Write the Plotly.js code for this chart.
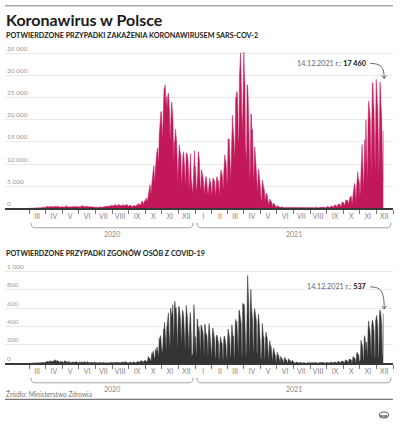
<!DOCTYPE html>
<html><head><meta charset="utf-8">
<script src="https://cdn.plot.ly/plotly-3.0.1.min.js"></script>
<style>html,body{margin:0;padding:0;background:#fff;}#chart{width:400px;height:424px;}</style>
</head><body><div id="chart"></div>
<script>
// ---------- DATA ----------
const startDate = '2020-03-02'; // first Monday, one row per week (Mon..Sun)
const dailyCases = [
0,0,1,0,4,1,5,
6,5,9,18,17,21,32,
27,27,46,73,70,111,98,
115,152,150,170,170,249,224,
193,256,243,244,475,437,244,
311,374,370,380,357,318,268,
270,285,380,336,363,545,263,
306,401,313,381,460,291,284,
263,344,445,380,286,342,292,
272,356,307,354,330,595,414,
384,261,272,389,271,265,378,
222,335,403,291,279,443,222,
278,395,358,383,371,337,239,
292,324,361,403,352,579,575,
599,282,396,440,378,353,407,
314,370,506,301,305,346,314,
240,371,324,320,361,319,250,
262,300,374,371,276,243,262,
193,225,269,299,358,318,225,
207,222,245,287,334,349,308,
281,337,330,375,418,443,323,
337,384,512,615,657,658,548,
680,599,640,726,809,843,596,
548,587,600,843,832,726,691,
587,511,639,767,903,811,579,
548,586,794,887,767,847,563,
453,545,575,597,648,700,400,
377,393,545,599,614,605,445,
517,599,592,810,1002,1049,759,
759,752,975,1136,1587,1584,1306,
757,1326,1552,1552,1937,2292,1934,
1334,2236,3003,4280,4739,5300,4178,
3003,5068,6526,8099,7705,9622,7482,
5706,9291,10040,12107,13632,13628,11742,
10241,16300,18820,20156,21629,21897,17171,
15578,19364,24692,27143,27086,27875,24785,
21713,25221,22464,25571,26019,24051,21854,
15002,19152,19883,23975,22683,20816,16218,
10139,15002,15362,17856,16687,15178,11483,
5733,9105,13855,14325,13210,12252,11726,
4896,7145,12143,12140,12756,11486,8977,
4633,7872,12545,12454,11933,11000,8700,
4000,7000,12200,12300,6800,4600,3500,
3211,7000,12197,13000,7000,9500,5000,
3800,6000,8000,12800,12100,11000,7000,
3900,4900,8700,8100,7200,6900,5000,
3000,4700,6800,7200,6900,6000,4100,
2800,4600,6800,6800,6100,5800,4300,
2600,4600,6800,6600,6400,6100,4300,
2500,4900,7100,7000,6200,6200,4600,
2500,6000,8700,8700,7900,7800,5800,
4000,7900,12100,12100,10900,10500,8700,
4800,7900,15700,15250,15700,13000,10900,
6100,11500,17200,21000,18400,17300,14900,
10900,14400,25000,25100,26400,25900,21800,
14500,16000,29900,34200,35100,29900,24800,
16700,20900,32900,35250,30500,27900,14600,
9900,9900,27900,27800,24900,21100,13600,
6300,9900,21300,21100,17200,17800,10900,
5200,9100,13900,12500,10700,9300,6400,
3400,6400,8900,8000,7000,6000,4000,
2000,1700,6400,5500,4700,4400,3900,
1400,2400,3400,3300,2900,2400,1900,
700,1500,2100,1800,1700,1500,1000,
400,800,1200,1000,800,900,600,
200,400,600,500,400,400,300,
100,300,350,300,250,200,150,
80,150,200,200,150,130,110,
60,100,150,130,110,100,80,
40,100,120,100,90,80,60,
40,90,110,100,90,80,70,
40,90,110,110,100,100,80,
50,100,120,110,110,120,90,
50,110,140,140,130,150,100,
60,120,170,180,170,200,130,
80,150,230,240,210,230,150,
90,160,260,250,240,250,160,
100,180,300,300,290,300,200,
100,230,400,380,380,400,250,
150,300,530,500,480,480,350,
200,450,760,700,650,670,450,
300,600,1000,900,880,900,550,
400,800,1400,1300,1100,1350,900,
500,1100,1900,1800,1600,1900,1300,
800,1500,2600,2600,2600,2700,1500,
1100,2600,4300,5500,5600,5100,3000,
1500,4700,7600,8300,6600,6500,5600,
2500,4600,10400,12100,14400,10700,8100,
4000,10000,15500,9000,20000,15200,10500,
5500,19000,24200,23200,22000,20000,14000,
7000,20000,28400,28300,24000,22000,15000,
8000,18000,29100,27000,24000,22000,15000,
7000,16000,28500,27000,23000,21000,14000,
6000,17460
];
const dailyDeaths = [
0,0,0,0,0,0,0,
0,0,0,1,1,1,0,
0,2,0,0,1,2,0,
6,4,4,3,6,2,7,
1,8,12,17,14,23,11,
15,20,14,28,24,20,19,
14,26,26,31,25,39,20,
21,28,26,27,14,21,9,
20,19,15,20,20,17,10,
6,13,29,21,14,22,8,
8,9,23,15,14,13,12,
6,14,19,15,9,11,5,
8,14,18,16,7,13,2,
7,12,17,7,14,14,11,
5,10,16,16,12,13,6,
2,18,9,12,10,6,8,
7,11,10,5,12,11,4,
5,16,5,9,8,5,2,
4,6,9,6,10,8,4,
2,8,5,6,8,6,2,
1,10,5,7,4,5,3,
2,6,9,6,10,12,4,
3,10,9,10,9,10,5,
5,10,11,9,15,11,6,
4,15,12,12,10,14,9,
7,18,13,14,11,10,3,
4,10,13,12,12,13,5,
4,7,17,18,12,14,4,
7,17,14,18,22,21,11,
4,21,27,31,23,22,9,
10,26,30,28,31,26,15,
11,41,76,54,52,53,29,
22,97,116,91,132,84,67,
40,152,130,137,179,153,101,
71,274,236,301,280,179,120,
92,227,373,367,445,349,227,
119,377,419,466,548,346,247,
149,603,574,511,543,637,364,
230,603,674,574,609,517,283,
123,480,620,609,547,484,320,
182,453,578,560,508,406,230,
129,433,630,557,500,374,152,
136,389,552,511,317,79,97,
91,456,637,520,96,290,136,
45,482,471,329,400,354,178,
91,417,407,378,360,309,164,
72,427,399,313,323,292,158,
55,339,431,361,297,248,97,
45,320,383,340,296,260,70,
46,285,308,297,276,225,60,
29,207,285,256,227,214,58,
42,258,297,275,247,200,65,
33,235,373,338,303,245,83,
52,291,419,354,289,298,76,
41,373,479,405,460,346,102,
63,575,575,520,443,436,134,
49,653,621,644,628,440,123,
56,153,621,954,803,653,239,
71,623,803,631,578,468,177,
91,544,594,553,488,461,130,
76,436,536,472,400,256,62,
37,140,433,371,300,281,82,
20,272,338,296,279,186,66,
15,191,246,181,193,131,28,
8,123,167,129,107,81,21,
8,97,119,52,93,54,5,
3,75,66,64,52,34,10,
3,60,63,43,36,32,6,
2,41,49,30,34,22,4,
2,34,26,24,20,14,1,
1,14,17,10,12,8,1,
0,10,10,8,6,5,1,
0,8,6,7,5,4,0,
0,6,5,5,4,3,0,
0,5,6,5,4,3,0,
0,6,8,5,5,4,1,
0,7,7,6,5,5,1,
0,8,9,8,6,5,1,
1,9,10,9,8,7,1,
1,12,13,10,10,9,1,
2,14,15,13,12,10,2,
3,18,22,16,15,13,3,
3,24,26,22,20,17,3,
5,30,38,30,28,25,5,
7,45,47,44,40,35,7,
10,60,75,64,54,50,10,
12,110,120,105,100,85,15,
20,40,250,220,200,180,40,
30,280,300,240,130,230,50,
40,350,460,400,380,300,60,
45,420,470,450,400,350,70,
50,460,500,520,450,380,80,
55,502,580,560,500,420,90,
60,537
];
const monthLabels = ['III','IV','V','VI','VII','VIII','IX','X','XI','XII',
                     'I','II','III','IV','V','VI','VII','VIII','IX','X','XI','XII'];
const firstMonth = {year: 2020, month: 3};
const yearLabels = ['2020', '2021'];
const caseTicks = [0, 5000, 10000, 15000, 20000, 25000, 30000, 35000];
const deathTicks = [0, 200, 400, 600, 800, 1000];
const titleText = 'Koronawirus w Polsce';
const subtitleCases = 'POTWIERDZONE PRZYPADKI ZAKAŻENIA KORONAWIRUSEM SARS-COV-2';
const subtitleDeaths = 'POTWIERDZONE PRZYPADKI ZGONÓW OSÓB Z COVID-19';
const sourceText = 'Źródło: Ministerstwo Zdrowia';

// ---------- DERIVED ----------
const DAY = 86400000;
const t0 = Date.parse(startDate + 'T00:00:00Z');
const dates = dailyCases.map((_, i) => new Date(t0 + i * DAY).toISOString().slice(0, 10));
const iso = (y, m, d) => new Date(Date.UTC(y, m - 1, d)).toISOString().slice(0, 10);
const monthStarts = [], monthMids = [];
for (let k = 0; k <= monthLabels.length; k++) {
  const m0 = firstMonth.month - 1 + k;
  const y = firstMonth.year + Math.floor(m0 / 12), m = (m0 % 12) + 1;
  monthStarts.push(iso(y, m, 1));
  if (k < monthLabels.length) monthMids.push(iso(y, m, 16));
}

// geometry (px in the 400x424 page)
const W = 400, H = 424, PL = 5, PR = 393;
const xr0 = Date.UTC(2020, 0, 16, 18), xr1 = Date.UTC(2022, 0, 1);
const xRange = [new Date(xr0).toISOString(), new Date(xr1).toISOString()];
const topBase = 208.3, topScale = 155 / 35000, topMax = 37000;
const botBase = 363.3, botScale = 92 / 1000, botMax = 1060;
const topTop = topBase - topMax * topScale, botTop = botBase - botMax * botScale;
const px2x = p => (p - PL) / (PR - PL);
const px2y = p => 1 - p / H;
const dateToPx = s => PL + (Date.parse(s.length > 10 ? s : s + 'T00:00:00Z') - xr0) / (xr1 - xr0) * (PR - PL);
const topVal = v => topBase - v * topScale;
const botVal = v => botBase - v * botScale;

const fmtNum = v => String(v).replace(/\B(?=(\d{3})+(?!\d))/g, ' ');
const fmtDate = s => s.slice(8, 10) + '.' + s.slice(5, 7) + '.' + s.slice(0, 4);

const FONT = 'Lato, "Open Sans", sans-serif';
const CRIMSON = '#c2185a', DARK = '#333333';

const traces = [
  {x: dates, y: dailyCases, xaxis: 'x', yaxis: 'y', type: 'scatter', mode: 'lines',
   line: {color: CRIMSON, width: 0.5}, fill: 'tozeroy', fillcolor: CRIMSON, hoverinfo: 'skip'},
  {x: dates, y: dailyDeaths, xaxis: 'x2', yaxis: 'y2', type: 'scatter', mode: 'lines',
   line: {color: DARK, width: 0.5}, fill: 'tozeroy', fillcolor: DARK, hoverinfo: 'skip'}
];

function xAxis(anchor) {
  return {
    anchor: anchor, type: 'date', range: xRange, domain: [0, 1], fixedrange: true,
    showgrid: false, zeroline: false, showline: true, linecolor: '#3a3a3a', linewidth: 1.2,
    tickmode: 'array', tickvals: monthMids, ticktext: monthLabels, ticks: '', ticklabelstandoff: 1,
    tickfont: {family: FONT, size: 7, color: '#888'},
    minor: {tickmode: 'array', tickvals: monthStarts, ticks: 'outside', ticklen: 4, tickwidth: 1, tickcolor: '#777', showgrid: false}
  };
}
function yAxis(anchor, dom, max, ticks) {
  return {
    anchor: anchor, domain: dom, range: [0, max], fixedrange: true,
    tickmode: 'array', tickvals: ticks, ticks: '', showticklabels: false,
    showgrid: true, gridcolor: '#e9e9e9', gridwidth: 1, zeroline: false, showline: false
  };
}

const shapes = [];
const annotations = [];
function txt(text, xpx, ypx, size, color, anchor, extra) {
  annotations.push(Object.assign({text: text, xref: 'paper', yref: 'paper', x: px2x(xpx), y: px2y(ypx),
    xanchor: anchor || 'left', yanchor: 'middle', showarrow: false,
    font: {family: FONT, size: size, color: color}}, extra || {}));
}
function path(d, color, width, fill) {
  shapes.push({type: 'path', xref: 'paper', yref: 'paper', path: d,
    line: {color: color, width: width}, fillcolor: fill || 'rgba(0,0,0,0)'});
}
const P = (x, y) => px2x(x).toFixed(5) + ',' + px2y(y).toFixed(5);

// y tick labels, sitting above their grid lines at the left edge
function yLabels(ticks, yref) {
  ticks.forEach(v => annotations.push({text: fmtNum(v), xref: 'paper', yref: yref, x: 0, y: v,
    xanchor: 'left', yanchor: 'middle', xshift: 0, yshift: 5, showarrow: false,
    font: {family: FONT, size: 6.5, color: '#999'}}));
}
yLabels(caseTicks, 'y');
yLabels(deathTicks, 'y2');

// header / footer rules
path('M' + P(5, 5.7) + 'L' + P(393, 5.7), '#aaaaaa', 1.6);
path('M' + P(5, 399.3) + 'L' + P(393, 399.3), '#555555', 1);

txt('<b>' + titleText + '</b>', 4, 19.5, 16, '#1a1a1a');
txt('<b>' + subtitleCases + '</b>', 4, 35.5, 7.2, '#1a1a1a');
txt('<b>' + subtitleDeaths + '</b>', 4, 253.5, 7.2, '#1a1a1a');
txt(sourceText, 4, 393.8, 6.6, '#777');

// year brackets
function brackets(baseY) {
  const yBot = baseY + 19.5, yEnd = baseY + 14.5, yLab = baseY + 25.5;
  yearLabels.forEach((lab, i) => {
    const yr = +lab;
    const a = dateToPx(i === 0 ? monthStarts[0] : iso(yr, 1, 1)) + 2;
    const b = dateToPx(iso(yr + 1, 1, 1)) - 2;
    path('M' + P(a, yEnd) + 'Q' + P(a, yBot) + ' ' + P(a + 4, yBot) + 'L' + P(b - 4, yBot) +
         'Q' + P(b, yBot) + ' ' + P(b, yEnd), '#999', 0.9);
    txt(lab, (a + b) / 2, yLab, 7, '#888', 'center');
  });
}
brackets(topBase);
brackets(botBase);

// last-value callouts
function callout(values, valToPx, dy, dyEnd) {
  const i = values.length - 1;
  const ex = dateToPx(dates[i]) + 1;
  const peak = Math.max.apply(null, values.slice(-21));
  const ey = valToPx(peak) - dyEnd;
  const ty = ey - dy, tr = ex - 16;
  txt('<span style="color:#666">' + fmtDate(dates[i]) + ' r.: </span><b>' + fmtNum(values[i]) + '</b>',
      tr, ty, 7.2, '#111', 'right');
  path('M' + P(tr + 2, ty) + 'C' + P(ex - 4, ty) + ' ' + P(ex, ty + 3) + ' ' + P(ex, ey), '#555', 0.9);
  path('M' + P(ex - 2.3, ey - 3) + 'L' + P(ex, ey) + 'L' + P(ex + 2.3, ey - 3), '#555', 0.9);
}
callout(dailyCases, topVal, 15, 1);
callout(dailyDeaths, botVal, 22, 1);

// PAP logo
shapes.push({type: 'circle', xref: 'paper', yref: 'paper', x0: px2x(379.5), x1: px2x(388.5), y0: px2y(418), y1: px2y(412),
  line: {color: '#444', width: 0.9}, fillcolor: '#fff'});
txt('<b>pap</b>', 384, 415, 4.5, '#333', 'center');

const layout = {
  width: W, height: H, margin: {l: PL, r: W - PR, t: 0, b: 0, autoexpand: false},
  paper_bgcolor: '#fff', plot_bgcolor: 'rgba(0,0,0,0)', showlegend: false,
  separators: ', ', font: {family: FONT},
  xaxis: xAxis('y'), yaxis: yAxis('x', [px2y(topBase), px2y(topTop)], topMax, caseTicks),
  xaxis2: xAxis('y2'), yaxis2: yAxis('x2', [px2y(botBase), px2y(botTop)], botMax, deathTicks),
  shapes: shapes, annotations: annotations
};
Plotly.newPlot('chart', traces, layout, {staticPlot: true, displayModeBar: false});
</script></body></html>
